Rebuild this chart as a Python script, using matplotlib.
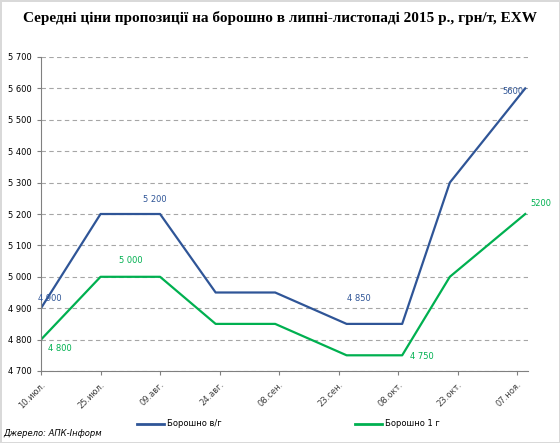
import matplotlib
matplotlib.use("Agg")
import matplotlib.pyplot as plt
from matplotlib.ticker import FuncFormatter
from matplotlib.lines import Line2D

# days since 10 July 2015
days = [0, 15, 30, 44, 59, 77, 91, 103, 122]
flour_top = [4900, 5200, 5200, 4950, 4950, 4850, 4850, 5300, 5600]
flour_first = [4800, 5000, 5000, 4850, 4850, 4750, 4750, 5000, 5200]

tick_days = [0, 15, 30, 45, 60, 75, 90, 105, 120]
tick_labels = ["10.июл.", "25.июл.", "09.авг.", "24.авг.", "08.сен.",
               "23.сен.", "08.окт.", "23.окт.", "07.ноя."]

# (series, point index, label, dx, dy) offsets in pixels
labels_top = [(0, "4 900", 9, 10), (2, "5 200", -5, 15),
              (5, "4 850", 12, 25), (8, "5600", -12, -3)]
labels_first = [(0, "4 800", 19, -9), (1, "5 000", 30, 16),
                (6, "4 750", 20, -1), (8, "5200", 16, 11)]

blue = "#2F5597"
green = "#00B050"

fig = plt.figure(figsize=(5.6, 4.43), dpi=100)
fig.patch.set_edgecolor("#D9D9D9")
fig.patch.set_linewidth(2)
ax = fig.add_axes([41 / 560, 1 - 371 / 443, 487 / 560, 314 / 443])

ax.plot(days, flour_top, color=blue, lw=1.6)
ax.plot(days, flour_first, color=green, lw=1.6)

for i, txt, dx, dy in labels_top:
    ax.annotate(txt, (days[i], flour_top[i]), xytext=(dx, dy),
                textcoords="offset pixels", ha="center", va="center",
                fontsize=6, color=blue)
for i, txt, dx, dy in labels_first:
    ax.annotate(txt, (days[i], flour_first[i]), xytext=(dx, dy),
                textcoords="offset pixels", ha="center", va="center",
                fontsize=6, color=green)

ax.set_xlim(0, 122.7)
ax.set_ylim(4700, 5700)
ax.set_yticks(range(4700, 5701, 100))
ax.yaxis.set_major_formatter(FuncFormatter(lambda v, p: f"{int(v):,}".replace(",", " ")))
ax.set_xticks(tick_days)
ax.set_xticklabels(tick_labels, rotation=45, ha="right", rotation_mode="anchor")
ax.tick_params(axis="both", labelsize=6, color="#808080", length=3, width=0.8)
ax.tick_params(axis="x", labelcolor="#404040")
ax.grid(axis="y", color="#A6A6A6", linestyle=(0, (4, 3)), linewidth=0.8)
ax.set_axisbelow(True)
for s in ["top", "right"]:
    ax.spines[s].set_visible(False)
for s in ["left", "bottom"]:
    ax.spines[s].set_color("#808080")
    ax.spines[s].set_linewidth(0.8)

fig.text(0.5, 1 - 18 / 443, "Середні ціни пропозиції на борошно в липні-листопаді 2015 р., грн/т, EXW",
         ha="center", va="center", fontsize=11, fontweight="bold", family="Liberation Serif")

handles = [Line2D([], [], color=blue, lw=2), Line2D([], [], color=green, lw=2)]
fig.legend(handles, ["Борошно в/г", "Борошно 1 г"], loc="center",
           bbox_to_anchor=(0.515, 1 - 424 / 443), ncol=2, frameon=False,
           fontsize=6, handlelength=3.2, columnspacing=16, handletextpad=0.4)

fig.text(3 / 560, 1 - 434 / 443, "Джерело: АПК-Інформ", fontsize=6, style="italic",
         ha="left", va="center")

fig.savefig("out.png", dpi=100)
